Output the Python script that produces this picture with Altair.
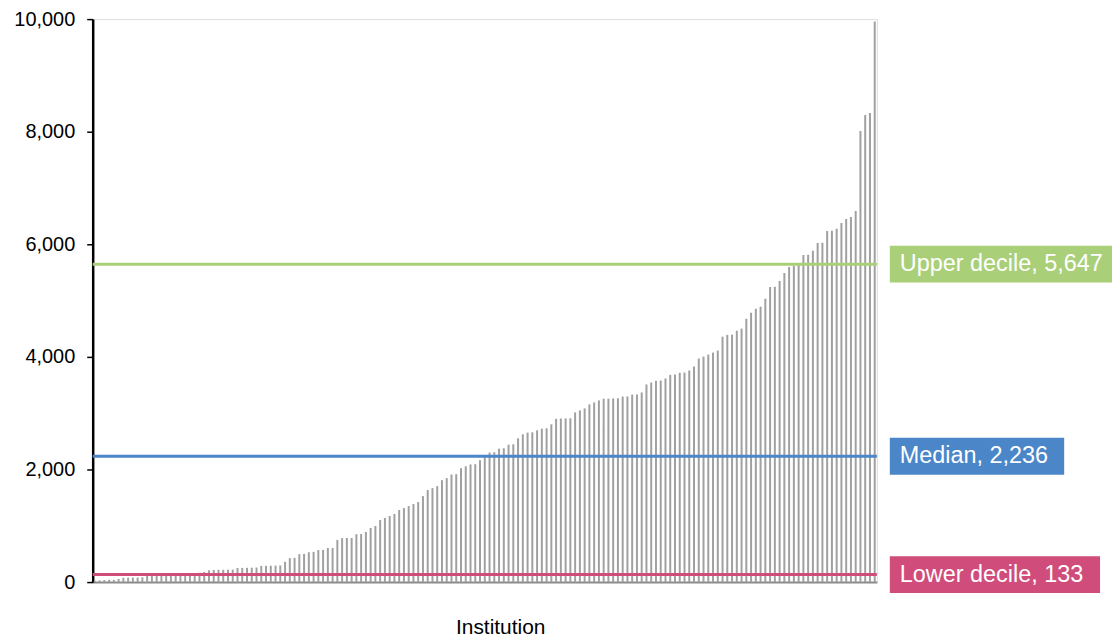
import altair as alt
import pandas as pd

# Sorted institution values
values = [
    25, 30, 35, 40, 40, 55, 75, 78, 80, 80,
    85, 110, 112, 115, 118, 120, 130, 138, 140, 145,
    150, 155, 165, 180, 210, 215, 218, 218, 220, 222,
    250, 252, 253, 255, 258, 285, 288, 290, 292, 295,
    360, 425, 430, 495, 501, 530, 536, 568, 572, 605,
    607, 749, 780, 784, 784, 850, 855, 890, 961, 997,
    1103, 1138, 1173, 1209, 1280, 1315, 1350, 1386, 1421, 1527,
    1634, 1669, 1704, 1810, 1846, 1910, 1917, 2023, 2058, 2090,
    2094, 2165, 2236, 2300, 2306, 2370, 2377, 2440, 2448, 2554,
    2625, 2655, 2660, 2696, 2725, 2731, 2802, 2900, 2905, 2908,
    2910, 3014, 3050, 3085, 3156, 3191, 3227, 3255, 3258, 3262,
    3265, 3295, 3297, 3330, 3333, 3368, 3510, 3545, 3575, 3580,
    3616, 3680, 3687, 3718, 3722, 3758, 3828, 3970, 4005, 4041,
    4076, 4112, 4359, 4390, 4395, 4465, 4501, 4678, 4784, 4855,
    4890, 5032, 5240, 5244, 5350, 5492, 5598, 5620, 5665, 5811,
    5815, 5885, 6023, 6027, 6235, 6240, 6275, 6380, 6450, 6485,
    6590, 8012, 8295, 8331, 9959,
]
institutions = list(range(1, len(values) + 1))

stat_names = ["Upper decile", "Median", "Lower decile"]
stat_values = [5647, 2236, 133]
stat_labels = ["Upper decile, 5,647", "Median, 2,236", "Lower decile, 133"]

y_ticks = [0, 2000, 4000, 6000, 8000, 10000]

# styles
stat_colors = {"Upper decile": "#A9CF78", "Median": "#4A86C8", "Lower decile": "#D04C7A"}
box_widths = {"Upper decile": 230, "Median": 175, "Lower decile": 211}
FONT = "Liberation Sans"
W, H = 787, 565
BOX_X = 798

bars_df = pd.DataFrame({"Institution": institutions, "Value": values})
stats_df = pd.DataFrame({"stat": stat_names, "value": stat_values, "label": stat_labels})

y_scale = alt.Scale(domain=[0, 10000], nice=False)

bars = alt.Chart(bars_df).mark_bar(size=2, color="#a0a0a0").encode(
    x=alt.X(
        "Institution:O",
        sort=None,
        scale=alt.Scale(paddingOuter=0.2, paddingInner=0.5),
        axis=alt.Axis(
            labels=False, ticks=False, domainColor="#8c8c8c", domainWidth=2,
            title="Institution", titleFont=FONT, titleFontSize=21,
            titleFontWeight="normal", titleColor="#000000",
            titleX=409, titleY=46, titleBaseline="middle",
        ),
    ),
    y=alt.Y(
        "Value:Q",
        scale=y_scale,
        axis=alt.Axis(
            values=y_ticks, format=",.0f", title=None, grid=False,
            labelFont=FONT, labelFontSize=20, labelColor="#000000",
            labelPadding=12, domainColor="#000000", domainWidth=2.5,
            tickColor="#000000", tickSize=6, tickWidth=1.5,
        ),
    ),
)

layers = [bars]
for name in stat_names:
    sub = stats_df[stats_df["stat"] == name]
    col = stat_colors[name]
    line = alt.Chart(sub).mark_rule(color=col, strokeWidth=3).encode(
        y=alt.Y("value:Q", scale=y_scale)
    )
    box = alt.Chart(sub).mark_rule(color=col, strokeWidth=37, strokeCap="butt").encode(
        y=alt.Y("value:Q", scale=y_scale),
        x=alt.value(BOX_X + 2),
        x2=alt.value(BOX_X + 2 + box_widths[name]),
    )
    text = alt.Chart(sub).mark_text(
        align="left", baseline="middle", color="white", font=FONT, fontSize=23.5
    ).encode(
        y=alt.Y("value:Q", scale=y_scale),
        x=alt.value(BOX_X + 12),
        text="label:N",
    )
    layers += [line, box, text]

chart = alt.layer(*layers).properties(
    width=W,
    height=H,
    autosize=alt.AutoSizeParams(type="none"),
    padding={"left": 85, "top": 10, "right": 236, "bottom": 60},
).configure_view(stroke=None).configure(background="white")

chart.save("out.html", embed_options={"renderer": "svg", "actions": False})
